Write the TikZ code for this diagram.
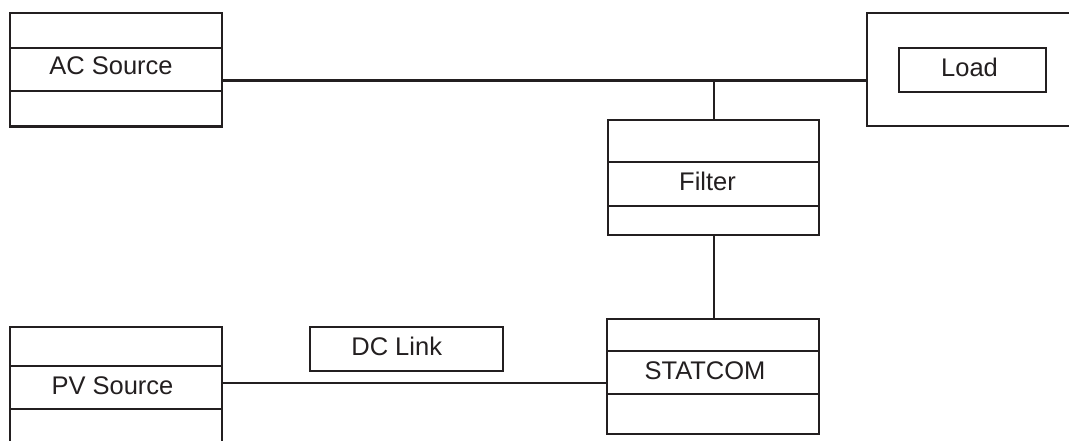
\documentclass[tikz,border=0pt]{standalone}
\usepackage{fontspec}
\setmainfont{Liberation Sans}
\definecolor{ink}{HTML}{231F20}
\begin{document}
\begin{tikzpicture}[x=1pt,y=-1pt,
  box/.style={draw=ink, line width=2.2pt, rectangle, outer sep=0pt, inner sep=0pt, anchor=north west},
  frame/.style={rectangle, outer sep=0pt, inner sep=0pt, anchor=north west},
  lbl/.style={text=ink, font=\fontsize{25.5}{30}\selectfont, inner sep=0pt},
  wire/.style={draw=ink, line width=2.2pt},
  div/.style={draw=ink, line width=2.2pt}]
\useasboundingbox (0,0) rectangle (1069,441);
\clip (0,0) rectangle (1069,441);
\fill[white] (0,0) rectangle (1069,441);

% AC Source
\node[box, minimum width=211.7pt, minimum height=113.8pt] (ac) at (10,12.7) {};
\draw[div] (ac.west |- 0,48.3) -- (ac.east |- 0,48.3);
\draw[div] (ac.west |- 0,91) -- (ac.east |- 0,91);
\node[lbl] (tac) at (111,66) {AC Source};

% Load (outer frame open to the right edge)
\node[frame, minimum width=215pt, minimum height=113.3pt] (load) at (867.3,12.7) {};
\draw[wire] (load.north east) -- (load.north west) -- (load.south west) -- (load.south east);
\node[box, minimum width=146.7pt, minimum height=43.4pt] (loadin) at (899.3,48.3) {};
\node[lbl] (tload) at (969.5,67) {Load};

% Filter
\node[box, minimum width=211.6pt, minimum height=115pt] (filter) at (607.7,120) {};
\draw[div] (filter.west |- 0,162.3) -- (filter.east |- 0,162.3);
\draw[div] (filter.west |- 0,206) -- (filter.east |- 0,206);
\node[lbl] (tfilter) at (707.5,181) {Filter};

% STATCOM
\node[box, minimum width=212pt, minimum height=115pt] (statcom) at (607.3,319.3) {};
\draw[div] (statcom.west |- 0,350.7) -- (statcom.east |- 0,350.7);
\draw[div] (statcom.west |- 0,394) -- (statcom.east |- 0,394);
\node[lbl] (tstat) at (705,371) {STATCOM};

% PV Source (runs off the bottom edge)
\node[box, minimum width=211.7pt, minimum height=130pt] (pv) at (10,326.7) {};
\draw[div] (pv.west |- 0,366) -- (pv.east |- 0,366);
\draw[div] (pv.west |- 0,409) -- (pv.east |- 0,409);
\node[lbl] (tpv) at (112.5,385.5) {PV Source};

% DC Link
\node[box, minimum width=193.3pt, minimum height=43.4pt] (dc) at (310,327.3) {};
\node[lbl] (tdc) at (396.7,346) {DC Link};

% connectors
\coordinate (bus) at (714,80.5);
\coordinate (pvbus) at (0,383);
\draw[wire] (ac.east |- bus) -- (load.west |- bus);
\draw[wire] (filter.north -| bus) -- (bus);
\draw[wire] (filter.south -| bus) -- (statcom.north -| bus);
\draw[wire] (pv.east |- pvbus) -- (statcom.west |- pvbus);
\end{tikzpicture}
\end{document}
